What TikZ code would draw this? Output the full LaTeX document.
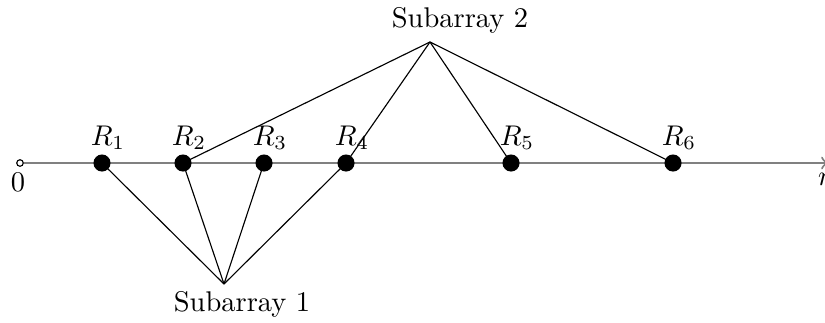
\documentclass[tikz,border=0pt]{standalone}
\usetikzlibrary{arrows}
\begin{document}
\begin{tikzpicture}[x=0.351pt,y=-0.351pt,
  dotnode/.style={circle,fill=black,inner sep=0pt,minimum size=6pt},
  link/.style={draw=black,line width=0.4pt},
  axisline/.style={draw=gray,line width=0.7pt},
  rlabel/.style={anchor=base,inner sep=0pt}]
\useasboundingbox (0,0) rectangle (825,322);
% axis
\node[circle,draw=black,line width=0.4pt,fill=white,inner sep=0pt,minimum size=2.3pt] (ax0) at (20,163) {};
\coordinate (ax1) at (828,163);
\draw[axisline,->] (ax0.east) -- (ax1);
\node[below] (zero) at (18,163) {$0$};
\node[below] (rr) at (825,163) {$r$};
% dots
\node[dotnode] (d1) at (102,163) {};
\node[dotnode] (d2) at (183,163) {};
\node[dotnode] (d3) at (264,163) {};
\node[dotnode] (d4) at (346,163) {};
\node[dotnode] (d5) at (511,163) {};
\node[dotnode] (d6) at (673,163) {};
% labels
\node[rlabel] (l1) at (108,145) {$R_1$};
\node[rlabel] (l2) at (189,145) {$R_2$};
\node[rlabel] (l3) at (270,145) {$R_3$};
\node[rlabel] (l4) at (352,145) {$R_4$};
\node[rlabel] (l5) at (517,145) {$R_5$};
\node[rlabel] (l6) at (679,145) {$R_6$};
% subarrays
\coordinate (s2) at (430,42);
\coordinate (s1) at (224,284);
\node (t2) at (460,20) {Subarray 2};
\node (t1) at (242,304) {Subarray 1};
\foreach \d in {d2,d4,d5,d6} \draw[link] (s2) -- (\d.center);
\foreach \d in {d1,d2,d3,d4} \draw[link] (s1) -- (\d.center);
\end{tikzpicture}
\end{document}
